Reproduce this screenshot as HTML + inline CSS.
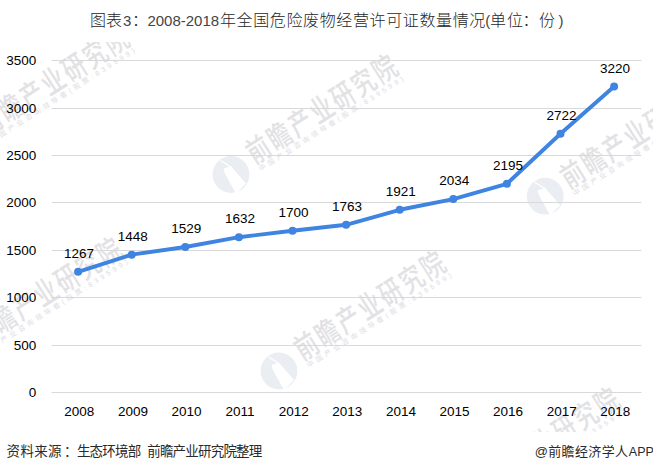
<!DOCTYPE html>
<html><head><meta charset="utf-8">
<style>
html,body{margin:0;padding:0;background:#fff;}
body{width:653px;height:472px;overflow:hidden;position:relative;}
.t{position:absolute;font-family:"Liberation Sans","Noto Sans CJK SC",sans-serif;line-height:20px;white-space:nowrap;}
.tt{color:#262626;font-size:16px;top:11px;font-weight:300;}
.td{color:#444;font-size:15px;top:10.5px;}
.ft{color:#2a2a2a;font-size:13.5px;top:442px;}
svg{position:absolute;left:0;top:0;}
</style></head><body>
<svg width="653" height="472" viewBox="0 0 653 472">
<defs><clipPath id="wc"><rect x="0" y="42" width="653" height="390"/></clipPath></defs>
<g clip-path="url(#wc)">
<g transform="translate(-35.6 145.7)"><circle cx="0" cy="0" r="18.4" fill="#eaedf2"/><path d="M-10.5,-14 L1,-6.8" stroke="#fff" stroke-width="1.3" fill="none"/><path d="M-7.5,-6 L-1,-8 L1.5,-6.5 L15,9 L5,19 L-5,1 L-6.5,-2 Z" fill="#fff"/></g><g transform="translate(-37.6 146.2) rotate(-32.5)"><g transform="scale(0.9 1.2)"><text x="40.6 68.3 96.0 123.8 151.5 179.3 207.0" y="3.83" text-anchor="middle" font-family="Liberation Sans, Noto Sans CJK SC, sans-serif" font-weight="500" font-size="25" fill="#e2e2e5">前瞻产业研究院</text></g><text x="26.8" y="13.5" font-family="Liberation Sans, Noto Sans CJK SC, sans-serif" font-size="7" letter-spacing="3.3" fill="#dcdcdf">中国产业咨询领导者(股票:839599)</text></g>
<g transform="translate(231 174.5)"><circle cx="0" cy="0" r="18.4" fill="#eaedf2"/><path d="M-10.5,-14 L1,-6.8" stroke="#fff" stroke-width="1.3" fill="none"/><path d="M-7.5,-6 L-1,-8 L1.5,-6.5 L15,9 L5,19 L-5,1 L-6.5,-2 Z" fill="#fff"/></g><g transform="translate(231 174.5) rotate(-32.5)"><g transform="scale(0.9 1.2)"><text x="40.6 68.3 96.0 123.8 151.5 179.3 207.0" y="3.83" text-anchor="middle" font-family="Liberation Sans, Noto Sans CJK SC, sans-serif" font-weight="500" font-size="25" fill="#e2e2e5">前瞻产业研究院</text></g><text x="26.8" y="13.5" font-family="Liberation Sans, Noto Sans CJK SC, sans-serif" font-size="7" letter-spacing="3.3" fill="#dcdcdf">中国产业咨询领导者(股票:839599)</text></g>
<g transform="translate(545.2 196.2)"><circle cx="0" cy="0" r="18.4" fill="#eaedf2"/><path d="M-10.5,-14 L1,-6.8" stroke="#fff" stroke-width="1.3" fill="none"/><path d="M-7.5,-6 L-1,-8 L1.5,-6.5 L15,9 L5,19 L-5,1 L-6.5,-2 Z" fill="#fff"/></g><g transform="translate(545.2 199.2) rotate(-32.5)"><g transform="scale(0.9 1.2)"><text x="40.6 68.3 96.0 123.8 151.5 179.3 207.0" y="3.83" text-anchor="middle" font-family="Liberation Sans, Noto Sans CJK SC, sans-serif" font-weight="500" font-size="25" fill="#e2e2e5">前瞻产业研究院</text></g><text x="26.8" y="13.5" font-family="Liberation Sans, Noto Sans CJK SC, sans-serif" font-size="7" letter-spacing="3.3" fill="#dcdcdf">中国产业咨询领导者(股票:839599)</text></g>
<g transform="translate(-42.7 356.9)"><circle cx="0" cy="0" r="18.4" fill="#eaedf2"/><path d="M-10.5,-14 L1,-6.8" stroke="#fff" stroke-width="1.3" fill="none"/><path d="M-7.5,-6 L-1,-8 L1.5,-6.5 L15,9 L5,19 L-5,1 L-6.5,-2 Z" fill="#fff"/></g><g transform="translate(-44.7 357.4) rotate(-32.5)"><g transform="scale(0.9 1.2)"><text x="40.6 68.3 96.0 123.8 151.5 179.3 207.0" y="3.83" text-anchor="middle" font-family="Liberation Sans, Noto Sans CJK SC, sans-serif" font-weight="500" font-size="25" fill="#e2e2e5">前瞻产业研究院</text></g><text x="26.8" y="13.5" font-family="Liberation Sans, Noto Sans CJK SC, sans-serif" font-size="7" letter-spacing="3.3" fill="#dcdcdf">中国产业咨询领导者(股票:839599)</text></g>
<g transform="translate(279 371)"><circle cx="0" cy="0" r="18.4" fill="#eaedf2"/><path d="M-10.5,-14 L1,-6.8" stroke="#fff" stroke-width="1.3" fill="none"/><path d="M-7.5,-6 L-1,-8 L1.5,-6.5 L15,9 L5,19 L-5,1 L-6.5,-2 Z" fill="#fff"/></g><g transform="translate(279 371) rotate(-32.5)"><g transform="scale(0.9 1.2)"><text x="40.6 68.3 96.0 123.8 151.5 179.3 207.0" y="3.83" text-anchor="middle" font-family="Liberation Sans, Noto Sans CJK SC, sans-serif" font-weight="500" font-size="25" fill="#e2e2e5">前瞻产业研究院</text></g><text x="26.8" y="13.5" font-family="Liberation Sans, Noto Sans CJK SC, sans-serif" font-size="7" letter-spacing="3.3" fill="#dcdcdf">中国产业咨询领导者(股票:839599)</text></g>
<g transform="translate(452 504)"><circle cx="0" cy="0" r="18.4" fill="#eaedf2"/><path d="M-10.5,-14 L1,-6.8" stroke="#fff" stroke-width="1.3" fill="none"/><path d="M-7.5,-6 L-1,-8 L1.5,-6.5 L15,9 L5,19 L-5,1 L-6.5,-2 Z" fill="#fff"/></g><g transform="translate(453 507.5) rotate(-32.5)"><g transform="scale(0.9 1.2)"><text x="40.6 68.3 96.0 123.8 151.5 179.3 207.0" y="3.83" text-anchor="middle" font-family="Liberation Sans, Noto Sans CJK SC, sans-serif" font-weight="500" font-size="25" fill="#e2e2e5">前瞻产业研究院</text></g><text x="26.8" y="13.5" font-family="Liberation Sans, Noto Sans CJK SC, sans-serif" font-size="7" letter-spacing="3.3" fill="#dcdcdf">中国产业咨询领导者(股票:839599)</text></g>
</g>
<rect x="51.6" y="392" width="589.8" height="1" fill="#d9d9d9"/>
<rect x="51.6" y="345" width="589.8" height="1" fill="#d9d9d9"/>
<rect x="51.6" y="297" width="589.8" height="1" fill="#d9d9d9"/>
<rect x="51.6" y="250" width="589.8" height="1" fill="#d9d9d9"/>
<rect x="51.6" y="202" width="589.8" height="1" fill="#d9d9d9"/>
<rect x="51.6" y="155" width="589.8" height="1" fill="#d9d9d9"/>
<rect x="51.6" y="108" width="589.8" height="1" fill="#d9d9d9"/>
<rect x="51.6" y="60" width="589.8" height="1" fill="#d9d9d9"/>
<text x="36.2" y="397.30" text-anchor="end" font-family="Liberation Sans, sans-serif" font-size="13.5" fill="#000">0</text>
<text x="36.2" y="350.30" text-anchor="end" font-family="Liberation Sans, sans-serif" font-size="13.5" fill="#000">500</text>
<text x="36.2" y="302.30" text-anchor="end" font-family="Liberation Sans, sans-serif" font-size="13.5" fill="#000">1000</text>
<text x="36.2" y="255.30" text-anchor="end" font-family="Liberation Sans, sans-serif" font-size="13.5" fill="#000">1500</text>
<text x="36.2" y="207.30" text-anchor="end" font-family="Liberation Sans, sans-serif" font-size="13.5" fill="#000">2000</text>
<text x="36.2" y="160.30" text-anchor="end" font-family="Liberation Sans, sans-serif" font-size="13.5" fill="#000">2500</text>
<text x="36.2" y="113.30" text-anchor="end" font-family="Liberation Sans, sans-serif" font-size="13.5" fill="#000">3000</text>
<text x="36.2" y="65.30" text-anchor="end" font-family="Liberation Sans, sans-serif" font-size="13.5" fill="#000">3500</text>
<text x="79.30" y="416.3" text-anchor="middle" font-family="Liberation Sans, sans-serif" font-size="13.5" fill="#000">2008</text>
<text x="132.90" y="416.3" text-anchor="middle" font-family="Liberation Sans, sans-serif" font-size="13.5" fill="#000">2009</text>
<text x="186.50" y="416.3" text-anchor="middle" font-family="Liberation Sans, sans-serif" font-size="13.5" fill="#000">2010</text>
<text x="240.10" y="416.3" text-anchor="middle" font-family="Liberation Sans, sans-serif" font-size="13.5" fill="#000">2011</text>
<text x="293.70" y="416.3" text-anchor="middle" font-family="Liberation Sans, sans-serif" font-size="13.5" fill="#000">2012</text>
<text x="347.30" y="416.3" text-anchor="middle" font-family="Liberation Sans, sans-serif" font-size="13.5" fill="#000">2013</text>
<text x="400.90" y="416.3" text-anchor="middle" font-family="Liberation Sans, sans-serif" font-size="13.5" fill="#000">2014</text>
<text x="454.50" y="416.3" text-anchor="middle" font-family="Liberation Sans, sans-serif" font-size="13.5" fill="#000">2015</text>
<text x="508.10" y="416.3" text-anchor="middle" font-family="Liberation Sans, sans-serif" font-size="13.5" fill="#000">2016</text>
<text x="561.70" y="416.3" text-anchor="middle" font-family="Liberation Sans, sans-serif" font-size="13.5" fill="#000">2017</text>
<text x="615.30" y="416.3" text-anchor="middle" font-family="Liberation Sans, sans-serif" font-size="13.5" fill="#000">2018</text>
<polyline points="78.10,271.81 131.70,254.64 185.30,246.96 238.90,237.19 292.50,230.74 346.10,224.76 399.70,209.77 453.30,199.05 506.90,183.78 560.50,133.79 614.10,86.55" fill="none" stroke="#3f84e0" stroke-width="3.9" stroke-linejoin="round" stroke-linecap="round"/>
<circle cx="78.10" cy="271.81" r="4" fill="#3f84e0"/>
<circle cx="131.70" cy="254.64" r="4" fill="#3f84e0"/>
<circle cx="185.30" cy="246.96" r="4" fill="#3f84e0"/>
<circle cx="238.90" cy="237.19" r="4" fill="#3f84e0"/>
<circle cx="292.50" cy="230.74" r="4" fill="#3f84e0"/>
<circle cx="346.10" cy="224.76" r="4" fill="#3f84e0"/>
<circle cx="399.70" cy="209.77" r="4" fill="#3f84e0"/>
<circle cx="453.30" cy="199.05" r="4" fill="#3f84e0"/>
<circle cx="506.90" cy="183.78" r="4" fill="#3f84e0"/>
<circle cx="560.50" cy="133.79" r="4" fill="#3f84e0"/>
<circle cx="614.10" cy="86.55" r="4" fill="#3f84e0"/>
<text x="79.10" y="258.01" text-anchor="middle" font-family="Liberation Sans, sans-serif" font-size="13.5" fill="#000">1267</text>
<text x="132.70" y="240.84" text-anchor="middle" font-family="Liberation Sans, sans-serif" font-size="13.5" fill="#000">1448</text>
<text x="186.30" y="233.16" text-anchor="middle" font-family="Liberation Sans, sans-serif" font-size="13.5" fill="#000">1529</text>
<text x="239.90" y="223.39" text-anchor="middle" font-family="Liberation Sans, sans-serif" font-size="13.5" fill="#000">1632</text>
<text x="293.50" y="216.94" text-anchor="middle" font-family="Liberation Sans, sans-serif" font-size="13.5" fill="#000">1700</text>
<text x="347.10" y="210.96" text-anchor="middle" font-family="Liberation Sans, sans-serif" font-size="13.5" fill="#000">1763</text>
<text x="400.70" y="195.97" text-anchor="middle" font-family="Liberation Sans, sans-serif" font-size="13.5" fill="#000">1921</text>
<text x="454.30" y="185.25" text-anchor="middle" font-family="Liberation Sans, sans-serif" font-size="13.5" fill="#000">2034</text>
<text x="507.90" y="169.98" text-anchor="middle" font-family="Liberation Sans, sans-serif" font-size="13.5" fill="#000">2195</text>
<text x="561.50" y="119.99" text-anchor="middle" font-family="Liberation Sans, sans-serif" font-size="13.5" fill="#000">2722</text>
<text x="615.10" y="72.75" text-anchor="middle" font-family="Liberation Sans, sans-serif" font-size="13.5" fill="#000">3220</text>
</svg>
<div class="t tt" style="left:90px">图表</div>
<div class="t td" style="left:123px">3</div>
<div class="t tt" style="left:132px">：</div>
<div class="t td" style="left:147.4px">2008-2018</div>
<div class="t tt" style="left:220px;letter-spacing:0.62px">年全国危险废物经营许可证数量情况</div>
<div class="t td" style="left:485.2px">(</div>
<div class="t tt" style="left:490px;letter-spacing:1px">单位</div>
<div class="t tt" style="left:522.5px">：</div>
<div class="t tt" style="left:539px">份</div>
<div class="t td" style="left:558.6px">)</div>
<div class="t ft" style="left:6.6px;letter-spacing:0.3px">资料来源</div>
<div class="t ft" style="left:63.9px">：</div>
<div class="t ft" style="left:76.9px;letter-spacing:-0.8px">生态环境部</div>
<div class="t ft" style="left:147.2px;letter-spacing:-0.8px">前瞻产业研究院整理</div>
<div class="t ft" style="left:534.7px;font-size:13px;letter-spacing:0.35px">@前瞻经济学人</div>
<div class="t ft" style="left:628.8px;font-size:12.5px">APP</div>
</body></html>
